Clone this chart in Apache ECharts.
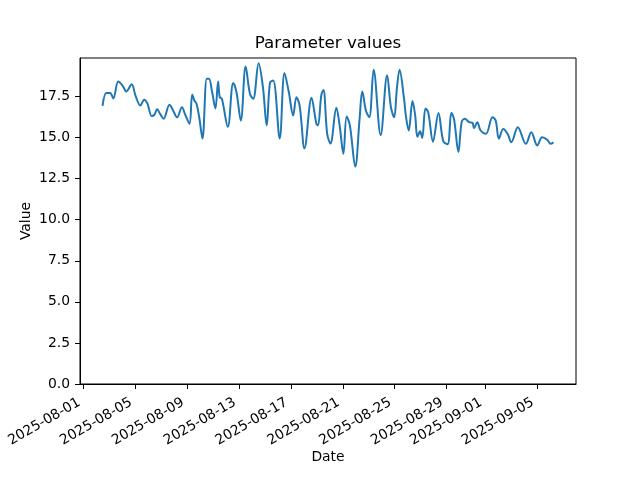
<!DOCTYPE html>
<html>
<head>
<meta charset="utf-8">
<script src="https://cdn.jsdelivr.net/npm/echarts@6/dist/echarts.min.js"></script>
<style>
html,body{margin:0;padding:0;background:#fff;}
#c{width:640px;height:480px;}
</style>
</head>
<body>
<div id="c"></div>
<script>
const times = [
'2025-08-02 11:00','2025-08-02 18:00','2025-08-03 01:00','2025-08-03 07:00','2025-08-03 16:00',
'2025-08-04 00:00','2025-08-04 07:00','2025-08-04 17:00','2025-08-05 00:00','2025-08-05 09:00',
'2025-08-05 16:00','2025-08-05 22:00','2025-08-06 06:00','2025-08-06 11:00','2025-08-06 16:00',
'2025-08-06 22:00','2025-08-07 04:00','2025-08-07 15:00','2025-08-07 21:00','2025-08-08 05:00',
'2025-08-08 14:00','2025-08-08 20:00','2025-08-09 04:00','2025-08-09 09:00','2025-08-09 13:00',
'2025-08-09 17:00','2025-08-09 22:00','2025-08-10 04:00','2025-08-10 12:00','2025-08-10 16:00',
'2025-08-10 22:00','2025-08-11 04:00','2025-08-11 09:00','2025-08-11 12:00','2025-08-11 16:00',
'2025-08-12 03:00','2025-08-12 13:00','2025-08-12 19:00','2025-08-13 03:00','2025-08-13 12:00',
'2025-08-13 20:00','2025-08-14 02:00','2025-08-14 12:00','2025-08-14 20:00','2025-08-15 03:00',
'2025-08-15 09:00','2025-08-15 15:00','2025-08-16 03:00','2025-08-16 12:00','2025-08-16 20:00',
'2025-08-17 04:00','2025-08-17 10:00','2025-08-17 16:00','2025-08-18 01:00','2025-08-18 14:00',
'2025-08-18 23:00','2025-08-19 02:00','2025-08-19 08:00','2025-08-19 12:00','2025-08-19 19:00',
'2025-08-20 01:00','2025-08-20 12:00','2025-08-20 18:00','2025-08-21 01:00','2025-08-21 07:00',
'2025-08-21 13:00','2025-08-21 23:00','2025-08-22 07:00','2025-08-22 12:00','2025-08-22 19:00',
'2025-08-23 01:00','2025-08-23 09:00','2025-08-23 22:00','2025-08-24 10:00','2025-08-24 17:00',
'2025-08-24 23:00','2025-08-25 04:00','2025-08-25 09:00','2025-08-25 17:00','2025-08-25 21:00',
'2025-08-26 02:00','2025-08-26 09:00','2025-08-26 14:00','2025-08-26 18:00','2025-08-26 23:00',
'2025-08-27 03:00','2025-08-27 09:00','2025-08-27 14:00','2025-08-27 23:00','2025-08-28 09:00',
'2025-08-28 18:00','2025-08-29 02:00','2025-08-29 09:00','2025-08-29 14:00','2025-08-29 22:00',
'2025-08-30 04:00','2025-08-30 10:00','2025-08-30 18:00','2025-08-31 00:00','2025-08-31 03:00',
'2025-08-31 09:00','2025-08-31 15:00','2025-09-01 01:00','2025-09-01 13:00','2025-09-01 19:00',
'2025-09-02 01:00','2025-09-02 09:00','2025-09-02 17:00','2025-09-03 00:00','2025-09-03 12:00',
'2025-09-04 03:00','2025-09-04 13:00','2025-09-05 00:00','2025-09-05 09:00','2025-09-05 18:00',
'2025-09-06 01:00','2025-09-06 06:00'
];
const values = [
16.93,17.72,17.72,17.38,18.42,
18.17,17.81,18.24,17.56,16.95,
17.31,17.08,16.32,16.39,16.72,
16.42,16.14,17.00,16.70,16.23,
16.84,16.40,15.84,17.63,17.26,
17.06,16.24,14.95,18.58,18.58,
17.76,16.77,18.41,17.46,17.36,
15.66,18.33,17.76,16.04,19.32,
17.66,17.36,19.53,18.07,15.74,
18.33,18.47,14.95,18.93,17.76,
16.34,17.46,16.95,14.34,17.43,
15.84,15.74,17.56,17.90,15.23,
14.64,16.81,15.74,14.01,16.29,
15.74,13.23,16.14,17.81,16.60,
16.24,19.13,15.15,18.80,16.85,
16.24,17.97,19.13,17.46,16.24,
15.43,17.23,16.34,15.05,15.38,
14.97,16.77,16.55,14.75,16.50,
14.78,14.60,16.51,16.10,14.13,
15.94,16.14,15.94,15.90,15.57,
15.94,15.43,15.23,16.24,16.04,
14.93,15.53,15.23,14.72,15.63,
14.62,15.33,14.52,15.02,14.88,
14.62,14.72
];
const xTickDates = ['2025-08-01','2025-08-05','2025-08-09','2025-08-13','2025-08-17','2025-08-21','2025-08-25','2025-08-29','2025-09-01','2025-09-05'];
const yTicks = [0,2.5,5,7.5,10,12.5,15,17.5];
const titleText = 'Parameter values';
const xName = 'Date';
const yName = 'Value';

function parseT(s){ const p = s.split(/[- :]/).map(Number); return new Date(p[0],p[1]-1,p[2],p[3]||0,p[4]||0).getTime(); }
const ts = times.map(parseT);
const xTickVals = xTickDates.map(parseT);
const span = ts[ts.length-1]-ts[0];
const xMin = ts[0]-0.05*span, xMax = ts[ts.length-1]+0.05*span;
const vmin = Math.min(...values), vmax = Math.max(...values);
const yMax = vmax + 0.05*(vmax-vmin);
const font = 'DejaVu Sans';
function fmtDate(v){ const d=new Date(v); const p=n=>String(n).padStart(2,'0'); return d.getFullYear()+'-'+p(d.getMonth()+1)+'-'+p(d.getDate()); }

const chart = echarts.init(document.getElementById('c'), null, {renderer:'canvas'});
chart.setOption({
  animation:false,
  backgroundColor:'#fff',
  title:{text:titleText,left:323,top:30,textAlign:'center',textStyle:{fontFamily:font,fontSize:16.7,fontWeight:'normal',color:'#000'}},
  grid:{left:80,right:64,top:58,bottom:96,show:true,borderColor:'#000',borderWidth:1,backgroundColor:'transparent'},
  xAxis:{type:'value',min:xMin,max:xMax,scale:true,name:xName,nameLocation:'middle',nameGap:66,nameMoveOverlap:false,
    nameTextStyle:{fontFamily:font,fontSize:13.9,color:'#000'},
    axisLine:{show:true,onZero:false,lineStyle:{color:'#000',width:1}},
    axisTick:{show:true,length:5,lineStyle:{color:'#000',width:1},customValues:xTickVals},
    axisLabel:{rotate:30,margin:15,padding:[0,5,0,0],fontFamily:font,fontSize:13.9,color:'#000',customValues:xTickVals,formatter:fmtDate,hideOverlap:false},
    splitLine:{show:false},minorTick:{show:false}},
  yAxis:{type:'value',min:0,max:yMax,name:yName,nameLocation:'middle',nameGap:47,nameRotate:90,nameMoveOverlap:false,
    nameTextStyle:{fontFamily:font,fontSize:13.9,color:'#000'},
    axisLine:{show:true,lineStyle:{color:'#000',width:1}},
    axisTick:{show:true,length:5,lineStyle:{color:'#000',width:1},customValues:yTicks},
    axisLabel:{margin:10,fontFamily:font,fontSize:13.9,color:'#000',customValues:yTicks,formatter:v=>Number(v).toFixed(1)},
    splitLine:{show:false}},
  series:[{type:'line',data:ts.map((t,i)=>[t,values[i]]),showSymbol:false,smooth:0.35,
    lineStyle:{color:'#1f77b4',width:2},itemStyle:{color:'#1f77b4'}}]
});
</script>
</body>
</html>
